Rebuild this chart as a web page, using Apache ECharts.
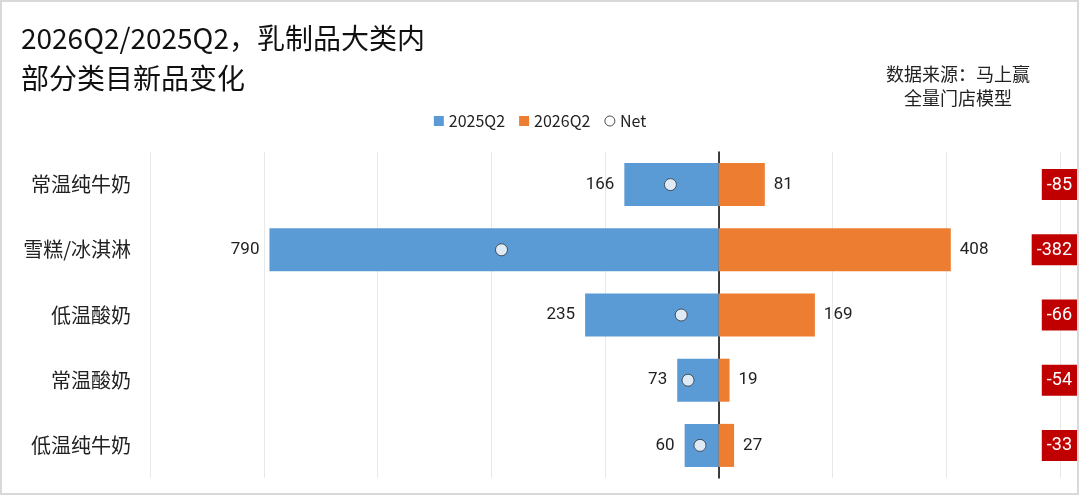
<!DOCTYPE html>
<html>
<head>
<meta charset="utf-8">
<script src="https://cdn.jsdelivr.net/npm/echarts@6/dist/echarts.min.js"></script>
<style>
  html, body { margin: 0; padding: 0; background: #fff; }
  #main { width: 1080px; height: 496px; }
</style>
</head>
<body>
<div id="main"></div>
<script>
// categories top to bottom
var categories = ['常温纯牛奶', '雪糕/冰淇淋', '低温酸奶', '常温酸奶', '低温纯牛奶'];
var q2025 = [166, 790, 235, 73, 60];
var q2026 = [81, 408, 169, 19, 27];
var net = [-85, -382, -66, -54, -33];

var cjk = '"Noto Sans CJK SC", sans-serif';

var chart = echarts.init(document.getElementById('main'));

var option = {
  backgroundColor: '#fff',
  animation: false,
  title: [
    {
      text: '2026Q2/2025Q2，乳制品大类内\n部分类目新品变化',
      left: 21, top: 18, padding: 0,
      textStyle: { fontFamily: cjk, fontSize: 28, fontWeight: 'normal', color: '#111', lineHeight: 40 }
    },
    {
      text: '数据来源：马上赢\n全量门店模型',
      left: 958, top: 62, textAlign: 'center', padding: 0,
      textStyle: { fontFamily: cjk, fontSize: 18, fontWeight: 'normal', color: '#222', lineHeight: 24, align: 'center' }
    }
  ],
  legend: {
    top: 108, left: 'center',
    itemWidth: 10, itemHeight: 10, itemGap: 14,
    textStyle: { fontFamily: cjk, fontSize: 16, color: '#222' },
    data: [
      { name: '2025Q2', icon: 'rect' },
      { name: '2026Q2', icon: 'rect' },
      { name: 'Net', icon: 'circle', itemStyle: { color: '#fff', borderColor: '#222', borderWidth: 1 } }
    ]
  },
  grid: { left: 150, right: 18, top: 152, bottom: 18 },
  xAxis: {
    type: 'value', min: -1000, max: 600, interval: 200,
    axisLabel: { show: false }, axisTick: { show: false }, axisLine: { show: false },
    splitLine: { lineStyle: { color: '#e8e8e8' } }
  },
  yAxis: [
    {
      type: 'category', data: categories, inverse: true,
      axisTick: { show: false },
      axisLine: { onZero: true, lineStyle: { color: '#000', width: 1.5 } },
      axisLabel: { margin: 19, fontFamily: cjk, fontSize: 20, color: '#222' }
    },
    {
      type: 'category', data: categories, inverse: true, position: 'right',
      axisTick: { show: false }, axisLine: { show: false },
      axisLabel: {
        margin: 17, align: 'right',
        formatter: function (v, i) { return '{n|' + net[i] + '}'; },
        rich: {
          n: { backgroundColor: '#c00000', color: '#fff', fontSize: 18, fontFamily: 'Roboto, sans-serif', padding: [7, 5, 6, 5] }
        }
      }
    }
  ],
  series: [
    {
      name: '2025Q2', type: 'bar', barWidth: '66%', barGap: '-100%',
      itemStyle: { color: '#5b9bd5' },
      data: q2025.map(function (v) { return -v; }),
      label: {
        show: true, position: 'left', distance: 10,
        fontFamily: 'Roboto, sans-serif', fontSize: 17, color: '#222',
        formatter: function (p) { return Math.abs(p.value); }
      }
    },
    {
      name: '2026Q2', type: 'bar', barWidth: '66%',
      itemStyle: { color: '#ed7d31' },
      data: q2026,
      label: {
        show: true, position: 'right', distance: 9,
        fontFamily: 'Roboto, sans-serif', fontSize: 17, color: '#222'
      }
    },
    {
      name: 'Net', type: 'scatter', symbol: 'circle', symbolSize: 12, z: 5,
      itemStyle: { color: '#fff', borderColor: '#333', borderWidth: 1 },
      data: net.map(function (v, i) { return [v, categories[i]]; })
    }
  ],
  graphic: [
    {
      type: 'rect', silent: true, z: 100,
      shape: { x: 1, y: 1, width: 1077, height: 493 },
      style: { fill: 'none', stroke: '#d9d9d9', lineWidth: 2 }
    }
  ]
};

chart.setOption(option);
</script>
</body>
</html>
